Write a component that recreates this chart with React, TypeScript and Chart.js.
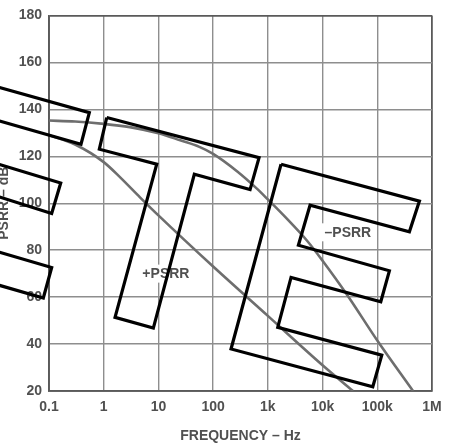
import React, { useEffect, useRef } from "react";
import { Chart, registerables } from "chart.js";

Chart.register(...registerables);

// ---- axis data ----
const freqTicks = [0.1, 1, 10, 100, 1000, 10000, 100000, 1000000];
const freqTickLabels = ["0.1", "1", "10", "100", "1k", "10k", "100k", "1M"];
const dbTicks = [20, 40, 60, 80, 100, 120, 140, 160, 180];

// ---- series data ----
const minusFreq = [0.1, 0.3, 1, 3, 10, 25, 56, 100, 280, 630, 1000, 2200, 5300, 10000, 29000, 100000, 450000];
const minusDb = [135.2, 134.8, 133.8, 132.4, 129.8, 126.8, 124, 121, 113.4, 106.2, 101.6, 93.5, 83.8, 75.5, 60.5, 41.5, 20];

const plusFreq = [0.1, 0.3, 1, 2, 4.6, 10, 100, 1000, 10000, 36000];
const plusDb = [129, 125, 117.5, 111, 102.5, 94.8, 73, 52, 31, 20];

// ---- in-plot labels ----
const labelTexts = ["–PSRR", "+PSRR"];
const labelFreq = [29000, 13.7];
const labelDb = [87.6, 70];

// ---- "OBSOLETE" stamp outlines (log10 frequency, dB) ----
const stampBar1 = [[-2.17, 151.0], [-0.263, 138.6], [-0.415, 125.1], [-2.17, 136.8]];
const stampBar2 = [[-2.17, 118.4], [-0.786, 108.6], [-0.951, 95.6], [-2.17, 104.6]];
const stampBar3 = [[-2.17, 80.9], [-0.951, 72.6], [-1.104, 59.6], [-2.17, 66.8]];
const stampT = [
  [0.055, 136.5], [2.839, 119.4], [2.675, 105.8], [1.656, 112.3],
  [0.907, 46.8], [0.207, 51.4], [0.969, 116.6], [-0.08, 123.0],
];
const stampE = [
  [3.241, 116.6], [5.77, 100.9], [5.587, 87.8], [3.771, 99.1],
  [3.558, 82.1], [5.221, 71.2], [5.064, 58.0], [3.424, 68.4],
  [3.181, 47.1], [5.082, 35.3], [4.918, 21.8], [2.327, 37.9],
];
const stampShapes = [stampBar1, stampBar2, stampBar3, stampT, stampE];

const FONT = '"Liberation Sans", Arial, sans-serif';
const TEXT_COLOR = "#505050";
const GRID_COLOR = "#8e8e8e";
const EDGE_COLOR = "#5a5a5a";
const CURVE_COLOR = "#6e6e6e";

const labelPlugin = {
  id: "inPlotLabels",
  beforeDatasetsDraw(chart: any) {
    const { ctx, scales } = chart;
    ctx.save();
    ctx.font = `bold 14px ${FONT}`;
    ctx.textAlign = "center";
    ctx.textBaseline = "middle";
    labelTexts.forEach((t, i) => {
      const px = scales.x.getPixelForValue(labelFreq[i]);
      const py = scales.y.getPixelForValue(labelDb[i]);
      const w = ctx.measureText(t).width;
      ctx.fillStyle = "#ffffff";
      ctx.fillRect(px - w / 2 - 3, py - 9, w + 6, 18);
      ctx.fillStyle = TEXT_COLOR;
      ctx.fillText(t, px, py + 1);
    });
    ctx.restore();
  },
};

export default function App() {
  const canvasRef = useRef<HTMLCanvasElement | null>(null);

  useEffect(() => {
    if (!canvasRef.current) return;

    const curveSets = [
      {
        label: "-PSRR",
        data: minusFreq.map((f, i) => ({ x: f, y: minusDb[i] })),
        borderColor: CURVE_COLOR,
        borderWidth: 2.6,
        pointRadius: 0,
        cubicInterpolationMode: "monotone" as const,
        fill: false,
        order: 1,
      },
      {
        label: "+PSRR",
        data: plusFreq.map((f, i) => ({ x: f, y: plusDb[i] })),
        borderColor: CURVE_COLOR,
        borderWidth: 2.6,
        pointRadius: 0,
        cubicInterpolationMode: "monotone" as const,
        fill: false,
        order: 1,
      },
    ];

    const stampSets = stampShapes.map((shape, k) => {
      const pts = shape.map(([e, db]) => ({ x: Math.pow(10, e), y: db }));
      pts.push(pts[0]);
      return {
        label: "stamp" + k,
        data: pts,
        borderColor: "#000000",
        borderWidth: 3.2,
        borderJoinStyle: "miter" as const,
        pointRadius: 0,
        tension: 0,
        fill: false,
        clip: false as any,
        order: 0,
      };
    });

    const chart = new Chart(canvasRef.current, {
      type: "line",
      data: { datasets: [...stampSets, ...curveSets] as any },
      options: {
        responsive: false,
        animation: false,
        devicePixelRatio: 1,
        layout: { padding: { left: 0, top: 15, right: 20, bottom: 0 } },
        plugins: {
          legend: { display: false },
          tooltip: { enabled: false },
        },
        scales: {
          x: {
            type: "logarithmic",
            min: 0.1,
            max: 1000000,
            afterBuildTicks: (scale: any) => {
              scale.ticks = freqTicks.map((v) => ({ value: v }));
            },
            afterFit: (scale: any) => {
              scale.height = 56;
            },
            ticks: {
              autoSkip: false,
              maxRotation: 0,
              padding: 8,
              color: TEXT_COLOR,
              font: { family: FONT, size: 14, weight: "bold" },
              callback: (value: any) => {
                const idx = freqTicks.findIndex((t) => Math.abs(t - Number(value)) / t < 1e-6);
                return idx >= 0 ? freqTickLabels[idx] : "";
              },
            },
            grid: {
              drawTicks: false,
              color: (ctx: any) =>
                ctx.tick && (ctx.tick.value === 0.1 || ctx.tick.value === 1000000) ? EDGE_COLOR : GRID_COLOR,
              lineWidth: (ctx: any) =>
                ctx.tick && (ctx.tick.value === 0.1 || ctx.tick.value === 1000000) ? 1.8 : 1.4,
            },
            border: { display: true, color: EDGE_COLOR, width: 1.8 },
            title: {
              display: true,
              text: "FREQUENCY – Hz",
              color: TEXT_COLOR,
              font: { family: FONT, size: 14, weight: "bold" },
              padding: { top: 0, bottom: 2.6 },
            },
          },
          y: {
            type: "linear",
            min: 20,
            max: 180,
            afterBuildTicks: (scale: any) => {
              scale.ticks = dbTicks.map((v) => ({ value: v }));
            },
            afterFit: (scale: any) => {
              scale.width = 49;
            },
            ticks: {
              padding: 7,
              color: TEXT_COLOR,
              font: { family: FONT, size: 14, weight: "bold" },
            },
            grid: {
              drawTicks: false,
              color: (ctx: any) =>
                ctx.tick && (ctx.tick.value === 20 || ctx.tick.value === 180) ? EDGE_COLOR : GRID_COLOR,
              lineWidth: (ctx: any) =>
                ctx.tick && (ctx.tick.value === 20 || ctx.tick.value === 180) ? 1.8 : 1.4,
            },
            border: { display: true, color: EDGE_COLOR, width: 1.8 },
            title: {
              display: true,
              text: "PSRR – dB",
              color: TEXT_COLOR,
              font: { family: FONT, size: 14, weight: "bold" },
              padding: { top: -4, bottom: 0 },
            },
          },
        },
      },
      plugins: [labelPlugin],
    });

    return () => chart.destroy();
  }, []);

  return (
    <canvas
      ref={canvasRef}
      width={452}
      height={447}
      style={{ position: "absolute", left: 0, top: 0, width: 452, height: 447, background: "#ffffff" }}
    />
  );
}
